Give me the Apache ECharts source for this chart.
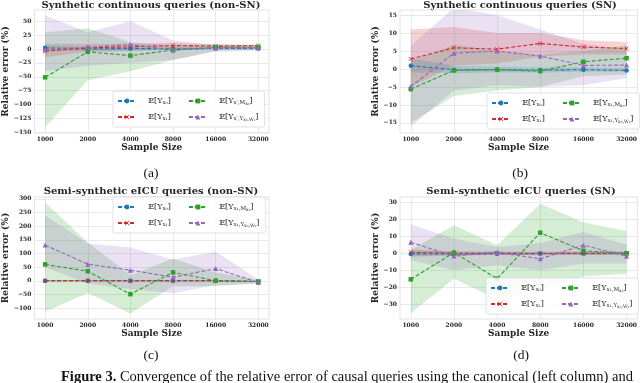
<!DOCTYPE html>
<html>
<head>
    <meta charset="utf-8">
    <title>Relative error convergence</title>
    <script type="text/javascript" src="https://cdn.jsdelivr.net/npm/echarts@6/dist/echarts.min.js"></script>
    <style>
        html, body { margin: 0; padding: 0; background: #fff; }
    </style>
</head>

<body>
    <div id="main" style="width:640px;height:383px;"></div>
    <script type="text/javascript">
    // x axis: sample sizes (drawn equally spaced, log2 scale)
    var sizes = ['1000', '2000', '4000', '8000', '16000', '32000'];
    var xTicks = [0, 1, 2, 3, 4, 5];

    // (a) synthetic continuous, non-SN
    var aTicks = [-150, -125, -100, -75, -50, -25, 0, 25, 50];
    var a_x0 = [2, 0, 1, 0, 1, 1];
    var a_x1 = [-4, 2, 4, 6, 5, 6];
    var a_med = [-51, -5, -12, -2, 3, 3];
    var a_pth = [-1, 3, 8, -2, 2, 2];
    var a_x0_lo = [-3, -3, -3, -2, -1, -1],      a_x0_hi = [6, 4, 4, 3, 3, 3];
    var a_x1_lo = [-15, -5, -3, 0, 2, 3],        a_x1_hi = [10, 9, 10, 11, 8, 8];
    var a_med_lo = [-140, -56, -40, -20, -3, -1], a_med_hi = [30, 37, 12, 6, 8, 6];
    var a_pth_lo = [-40, -30, -25, -20, -5, -3],  a_pth_hi = [60, 30, 50, 15, 8, 6];

    // (b) synthetic continuous, SN
    var bTicks = [-15, -10, -5, 0, 5, 10, 15];
    var b_x0 = [0.9, -0.2, -0.2, -0.3, -0.2, -0.4];
    var b_x1 = [2.8, 5.9, 5.5, 7.1, 6.1, 5.7];
    var b_med = [-5.6, -0.4, -0.2, -0.6, 2.0, 3.0];
    var b_pth = [-4.9, 4.4, 5.0, 3.6, 1.0, 1.1];
    var b_x0_lo = [-1, -1.2, -1, -1, -0.8, -0.8],  b_x0_hi = [3, 0.8, 0.6, 0.5, 0.5, 0.3];
    var b_x1_lo = [-5, 1, 1.5, 3.5, 4, 4],         b_x1_hi = [11, 11.7, 10, 10, 8, 7.5];
    var b_med_lo = [-15, -7.5, -6, -5, -2, -1.5],  b_med_hi = [2, 6.8, 5, 4, 5, 6.5];
    var b_pth_lo = [-16, -6, -4.5, -5, -4.5, -2.5], b_pth_hi = [6.5, 17, 15, 11, 7, 5.5];

    // (c) semi-synthetic eICU, non-SN
    var cTicks = [-100, -50, 0, 50, 100, 150, 200, 250, 300];
    var c_x0 = [0, 0, 0, 0, 0, -3];
    var c_x1 = [0, 0, 0, 0, 0, -3];
    var c_med = [60, 35, -49, 31, 0, -3];
    var c_pth = [131, 61, 39, 13, 45, -6];
    var c_x0_lo = [-3, -3, -3, -3, -3, -5],          c_x0_hi = [3, 3, 3, 3, 3, 0];
    var c_x1_lo = [-3, -3, -3, -3, -3, -5],          c_x1_hi = [3, 3, 3, 3, 3, 0];
    var c_med_lo = [-113, -45, -120, -20, -20, -8],  c_med_hi = [287, 140, 20, 82, 30, 3];
    var c_pth_lo = [50, -10, -30, -46, -15, -12],    c_pth_hi = [240, 137, 122, 78, 106, 5];

    // (d) semi-synthetic eICU, SN
    var dTicks = [-30, -20, -10, 0, 10, 20, 30];
    var d_x0 = [-0.5, -0.5, -0.3, -0.2, -0.2, -0.2];
    var d_x1 = [0.5, 0, 0, -0.2, 0, 0];
    var d_med = [-15.3, 0.4, -14.9, 12, 1.4, 0];
    var d_pth = [6.4, -1.7, 0.6, -3.3, 4.7, -1.7];
    var d_x0_lo = [-2, -1.5, -1, -1, -1, -1],        d_x0_hi = [1.5, 1, 0.8, 0.8, 0.8, 0.8];
    var d_x1_lo = [-1.5, -1, -1, -1.2, -1, -1],      d_x1_hi = [2.5, 1, 1, 0.8, 1, 1];
    var d_med_lo = [-35, -15, -27, -21, -13.7, -12], d_med_hi = [2, 16.3, 4.6, 29, 18, 13];
    var d_pth_lo = [-4, -10, -7, -10, -6, -6],       d_pth_hi = [17, 8.5, 3.7, 6, 12.4, 5];

    var titles = ['Synthetic continuous queries (non-SN)', 'Synthetic continuous queries (SN)',
                  'Semi-synthetic eICU queries (non-SN)', 'Semi-synthetic eICU queries (SN)'];
    var subLabels = ['(a)', '(b)', '(c)', '(d)'];

    // legend labels (rich text); {p|.} pads the first column
    var legendText = {
        a0: '{e|𝔼[Y}{s|x₀}{e|]}{p| }',     a1: '{e|𝔼[Y}{s|x₁}{e|]}{p| }',
        a2: '{e|𝔼[Y}{s|x′,M}{t|x₀}{e|]}', a3: '{e|𝔼[Y}{s|x′,Y}{t|x₀,W₁}{e|]}',
        b0: '{e|𝔼[Y}{s|x₀}{e|]}{p| }',     b1: '{e|𝔼[Y}{s|x₁}{e|]}{p| }',
        b2: '{e|𝔼[Y}{s|x₁,M}{t|x₀}{e|]}', b3: '{e|𝔼[Y}{s|x₁,Y}{t|x₀,W₁}{e|]}',
        c0: '{e|𝔼[Y}{s|x₀}{e|]}{p| }',     c1: '{e|𝔼[Y}{s|x₁}{e|]}{p| }',
        c2: '{e|𝔼[Y}{s|x₁,M}{t|x₀}{e|]}', c3: '{e|𝔼[Y}{s|x₁,Y}{t|x₀,W₁}{e|]}',
        d0: '{e|𝔼[Y}{s|x₀}{e|]}{p| }',     d1: '{e|𝔼[Y}{s|x₁}{e|]}{p| }',
        d2: '{e|𝔼[Y}{s|x₁,M}{t|x₀}{e|]}', d3: '{e|𝔼[Y}{s|x₁,Y}{t|x₀,W₁}{e|]}'
    };

    var colors = ['#1f77b4', '#d62728', '#2ca02c', '#9467bd'];
    var xMark = 'path://M1,0L5,4L9,0L10,1L6,5L10,9L9,10L5,6L1,10L0,9L4,5L0,1Z';
    var symbols = ['circle', xMark, 'rect', 'triangle'];
    var symSizes = [4.5, 4.5, 4.5, 5];
    var serif = '"DejaVu Serif", serif';
    var ink = '#262626';

    var panels = [
        {key: 'a', ticks: aTicks, min: -151, max: 70, lines: [a_x0, a_x1, a_med, a_pth],
         lo: [a_x0_lo, a_x1_lo, a_med_lo, a_pth_lo], hi: [a_x0_hi, a_x1_hi, a_med_hi, a_pth_hi]},
        {key: 'b', ticks: bTicks, min: -17.8, max: 16.4, lines: [b_x0, b_x1, b_med, b_pth],
         lo: [b_x0_lo, b_x1_lo, b_med_lo, b_pth_lo], hi: [b_x0_hi, b_x1_hi, b_med_hi, b_pth_hi]},
        {key: 'c', ticks: cTicks, min: -140, max: 307, lines: [c_x0, c_x1, c_med, c_pth],
         lo: [c_x0_lo, c_x1_lo, c_med_lo, c_pth_lo], hi: [c_x0_hi, c_x1_hi, c_med_hi, c_pth_hi]},
        {key: 'd', ticks: dTicks, min: -38.5, max: 32.9, lines: [d_x0, d_x1, d_med, d_pth],
         lo: [d_x0_lo, d_x1_lo, d_med_lo, d_pth_lo], hi: [d_x0_hi, d_x1_hi, d_med_hi, d_pth_hi]}
    ];

    var grids = [
        {left: 33, top: 10, width: 236, height: 123},
        {left: 400, top: 10, width: 240, height: 123},
        {left: 33, top: 197, width: 236, height: 122},
        {left: 400, top: 197, width: 240, height: 122}
    ];
    var titleX = [151, 520, 151, 521];
    var titleY = [0, 0, 186, 186];
    var legendPos = [
        {left: 113, top: 91}, {left: 487, top: 93},
        {left: 113, top: 197}, {left: 486, top: 278}
    ];
    var yNameGap = [24, 17, 24, 17];

    function fmtNum(v) {
        return v < 0 ? '\u2212' + (-v) : String(v);
    }

    function bandSeries(g, lo, hi, color) {
        return {
            type: 'custom',
            xAxisIndex: g,
            yAxisIndex: g,
            silent: true,
            clip: true,
            z: 1,
            data: lo.map(function (v, i) { return [i, v, hi[i]]; }),
            renderItem: function (params, api) {
                if (params.dataIndex !== 0) return;
                var pts = [];
                for (var i = 0; i < hi.length; i++) pts.push(api.coord([i, hi[i]]));
                for (var j = lo.length - 1; j >= 0; j--) pts.push(api.coord([j, lo[j]]));
                return {
                    type: 'polygon',
                    shape: {points: pts},
                    style: {fill: color, opacity: 0.2}
                };
            }
        };
    }

    var xAxes = [], yAxes = [], legends = [], series = [], titleList = [];

    panels.forEach(function (p, g) {
        xAxes.push({
            type: 'value', gridIndex: g, min: -0.25, max: 5.25,
            name: 'Sample Size', nameLocation: 'middle', nameGap: 10,
            nameTextStyle: {fontFamily: serif, fontWeight: 'bold', fontSize: 9, color: ink},
            axisLine: {show: false},
            axisTick: {show: false, customValues: xTicks},
            axisLabel: {customValues: xTicks, formatter: function (v) { return sizes[v]; },
                        fontFamily: serif, fontWeight: 'bold', fontSize: 6, color: ink, margin: 3},
            splitLine: {show: true, lineStyle: {color: '#e3e3e3', width: 0.8}}
        });
        yAxes.push({
            type: 'value', gridIndex: g, min: p.min, max: p.max,
            name: 'Relative error (%)', nameLocation: 'middle', nameGap: yNameGap[g],
            nameTextStyle: {fontFamily: serif, fontWeight: 'bold', fontSize: 9, color: ink},
            axisLine: {show: false},
            axisTick: {show: false, customValues: p.ticks},
            axisLabel: {customValues: p.ticks, formatter: fmtNum,
                        fontFamily: serif, fontWeight: 'bold', fontSize: 6, color: ink, margin: 3},
            splitLine: {show: true, lineStyle: {color: '#e3e3e3', width: 0.8}}
        });

        // bands first, then lines
        for (var k = 0; k < 4; k++) {
            series.push(bandSeries(g, p.lo[k], p.hi[k], colors[k]));
        }
        var names = [];
        for (var k2 = 0; k2 < 4; k2++) {
            var nm = p.key + k2;
            names.push(nm);
            series.push({
                name: nm,
                type: 'line',
                xAxisIndex: g,
                yAxisIndex: g,
                z: 3,
                data: p.lines[k2].map(function (v, i) { return [i, v]; }),
                symbol: symbols[k2],
                symbolSize: symSizes[k2],
                showSymbol: true,
                color: colors[k2],
                itemStyle: {color: colors[k2]},
                lineStyle: {color: colors[k2], width: 1.1, type: [4, 2]}
            });
        }

        legends.push({
            orient: 'vertical',
            left: legendPos[g].left,
            top: legendPos[g].top,
            height: 30,
            data: [names[0], names[1], names[2], names[3]],
            itemWidth: 18,
            itemHeight: 6,
            itemGap: 6,
            padding: [5, 6, 5, 4],
            backgroundColor: 'rgba(255,255,255,0.85)',
            borderColor: '#d9d9d9',
            borderWidth: 0.8,
            borderRadius: 2,
            selectedMode: false,
            formatter: function (n) { return legendText[n]; },
            textStyle: {
                fontSize: 8,
                lineHeight: 10,
                padding: [0, 0, 0, 7],
                rich: {
                    e: {fontFamily: serif, fontSize: 8, color: ink, lineHeight: 10, verticalAlign: 'middle'},
                    s: {fontFamily: serif, fontSize: 5.5, color: ink, lineHeight: 10, verticalAlign: 'bottom'},
                    t: {fontFamily: serif, fontSize: 4.5, color: ink, lineHeight: 10, verticalAlign: 'bottom'},
                    p: {fontSize: 5, width: 11, lineHeight: 10}
                }
            }
        });

        titleList.push({
            text: titles[g],
            left: titleX[g], top: titleY[g], textAlign: 'center', padding: 0,
            textStyle: {fontFamily: serif, fontWeight: 'bold', fontSize: 10, color: ink}
        });
        titleList.push({
            text: subLabels[g],
            left: titleX[g], top: g < 2 ? 166 : 348, textAlign: 'center', padding: 0,
            textStyle: {fontFamily: '"Liberation Serif", serif', fontWeight: 'normal', fontSize: 13.5, color: '#111'}
        });
    });

    titleList.push({
        text: '{b|Figure 3.} Convergence of the relative error of causal queries using the canonical (left column) and',
        left: 61, top: 370, padding: 0,
        textStyle: {
            fontFamily: '"Liberation Serif", serif', fontSize: 14.5, fontWeight: 'normal', color: '#111',
            rich: {b: {fontFamily: '"Liberation Serif", serif', fontSize: 14.5, fontWeight: 'bold', color: '#111'}}
        }
    });

    grids.forEach(function (gd) {
        gd.show = true;
        gd.borderColor = '#dcdcdc';
        gd.borderWidth = 0.8;
        gd.backgroundColor = '#fff';
    });

    var myChart = echarts.init(document.getElementById('main'), null, {renderer: 'canvas'});
    myChart.setOption({
        animation: false,
        backgroundColor: '#fff',
        title: titleList,
        grid: grids,
        xAxis: xAxes,
        yAxis: yAxes,
        legend: legends,
        series: series
    });
    </script>
</body>
</html>
